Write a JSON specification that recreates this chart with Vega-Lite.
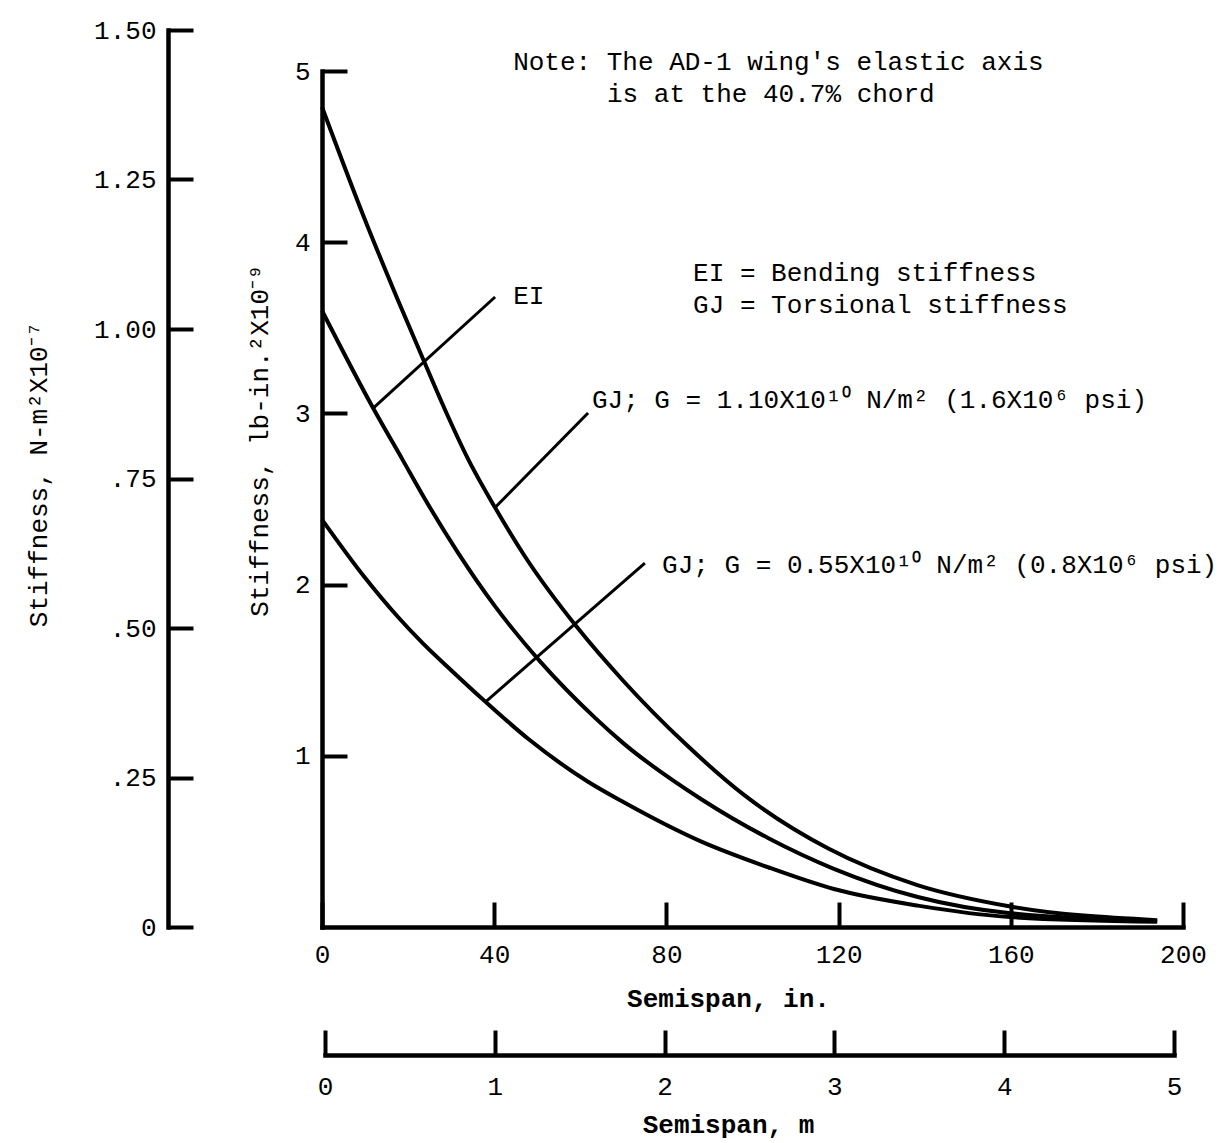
{
  "$schema": "https://vega.github.io/schema/vega-lite/v6.json",
  "width": 861,
  "height": 897,
  "autosize": {"type": "none"},
  "padding": {"left": 322, "top": 30, "right": 47, "bottom": 216},
  "background": "white",
  "config": {
    "view": {"stroke": null},
    "font": "Liberation Mono",
    "axis": {
      "grid": false,
      "domainColor": "black",
      "domainWidth": 4.5,
      "domainCap": "square",
      "tickColor": "black",
      "tickWidth": 4,
      "tickSize": -25,
      "labelFont": "Liberation Mono",
      "labelFontSize": 26,
      "labelColor": "black",
      "labelFlush": false,
      "labelOverlap": false,
      "titleFont": "Liberation Mono",
      "titleFontSize": 26,
      "titleColor": "black",
      "titleFontWeight": "normal"
    },
    "text": {"font": "Liberation Mono", "fontSize": 26, "color": "black"}
  },
  "datasets": {
    "curves": [
      {"series": "GJ; G = 1.10X10^10 N/m^2", "semispan_in": 0, "stiffness": 4.79},
      {"series": "GJ; G = 1.10X10^10 N/m^2", "semispan_in": 10, "stiffness": 4.13},
      {"series": "GJ; G = 1.10X10^10 N/m^2", "semispan_in": 17.5, "stiffness": 3.67},
      {"series": "GJ; G = 1.10X10^10 N/m^2", "semispan_in": 23.6, "stiffness": 3.31},
      {"series": "GJ; G = 1.10X10^10 N/m^2", "semispan_in": 28.6, "stiffness": 3.02},
      {"series": "GJ; G = 1.10X10^10 N/m^2", "semispan_in": 34, "stiffness": 2.73},
      {"series": "GJ; G = 1.10X10^10 N/m^2", "semispan_in": 40.2, "stiffness": 2.45},
      {"series": "GJ; G = 1.10X10^10 N/m^2", "semispan_in": 47, "stiffness": 2.17},
      {"series": "GJ; G = 1.10X10^10 N/m^2", "semispan_in": 59.6, "stiffness": 1.74},
      {"series": "GJ; G = 1.10X10^10 N/m^2", "semispan_in": 69.9, "stiffness": 1.44},
      {"series": "GJ; G = 1.10X10^10 N/m^2", "semispan_in": 84.4, "stiffness": 1.07},
      {"series": "GJ; G = 1.10X10^10 N/m^2", "semispan_in": 98.1, "stiffness": 0.77},
      {"series": "GJ; G = 1.10X10^10 N/m^2", "semispan_in": 117.5, "stiffness": 0.46},
      {"series": "GJ; G = 1.10X10^10 N/m^2", "semispan_in": 138.3, "stiffness": 0.245},
      {"series": "GJ; G = 1.10X10^10 N/m^2", "semispan_in": 159.9, "stiffness": 0.12},
      {"series": "GJ; G = 1.10X10^10 N/m^2", "semispan_in": 194, "stiffness": 0.04},
      {"series": "EI", "semispan_in": 0, "stiffness": 3.6},
      {"series": "EI", "semispan_in": 11.9, "stiffness": 3.03},
      {"series": "EI", "semispan_in": 18.7, "stiffness": 2.73},
      {"series": "EI", "semispan_in": 23.9, "stiffness": 2.5},
      {"series": "EI", "semispan_in": 31.5, "stiffness": 2.19},
      {"series": "EI", "semispan_in": 40, "stiffness": 1.88},
      {"series": "EI", "semispan_in": 50.7, "stiffness": 1.55},
      {"series": "EI", "semispan_in": 63.5, "stiffness": 1.22},
      {"series": "EI", "semispan_in": 69.7, "stiffness": 1.08},
      {"series": "EI", "semispan_in": 88.2, "stiffness": 0.745},
      {"series": "EI", "semispan_in": 103.6, "stiffness": 0.52},
      {"series": "EI", "semispan_in": 118.9, "stiffness": 0.34},
      {"series": "EI", "semispan_in": 138.4, "stiffness": 0.175},
      {"series": "EI", "semispan_in": 159.9, "stiffness": 0.08},
      {"series": "EI", "semispan_in": 194, "stiffness": 0.035},
      {"series": "GJ; G = 0.55X10^10 N/m^2", "semispan_in": 0, "stiffness": 2.38},
      {"series": "GJ; G = 0.55X10^10 N/m^2", "semispan_in": 10, "stiffness": 2.04},
      {"series": "GJ; G = 0.55X10^10 N/m^2", "semispan_in": 17.5, "stiffness": 1.815},
      {"series": "GJ; G = 0.55X10^10 N/m^2", "semispan_in": 23.5, "stiffness": 1.655},
      {"series": "GJ; G = 0.55X10^10 N/m^2", "semispan_in": 30, "stiffness": 1.5},
      {"series": "GJ; G = 0.55X10^10 N/m^2", "semispan_in": 38, "stiffness": 1.315},
      {"series": "GJ; G = 0.55X10^10 N/m^2", "semispan_in": 48.1, "stiffness": 1.095},
      {"series": "GJ; G = 0.55X10^10 N/m^2", "semispan_in": 61.7, "stiffness": 0.85},
      {"series": "GJ; G = 0.55X10^10 N/m^2", "semispan_in": 70, "stiffness": 0.73},
      {"series": "GJ; G = 0.55X10^10 N/m^2", "semispan_in": 88, "stiffness": 0.5},
      {"series": "GJ; G = 0.55X10^10 N/m^2", "semispan_in": 103.6, "stiffness": 0.349},
      {"series": "GJ; G = 0.55X10^10 N/m^2", "semispan_in": 118.9, "stiffness": 0.222},
      {"series": "GJ; G = 0.55X10^10 N/m^2", "semispan_in": 138.4, "stiffness": 0.125},
      {"series": "GJ; G = 0.55X10^10 N/m^2", "semispan_in": 159.9, "stiffness": 0.058},
      {"series": "GJ; G = 0.55X10^10 N/m^2", "semispan_in": 194, "stiffness": 0.03}
    ],
    "leaders": [
      {"label": "EI", "x1": 11.9, "y1": 3.031, "x2": 40.2, "y2": 3.68},
      {"label": "GJ 1.10", "x1": 40.2, "y1": 2.45, "x2": 61.8, "y2": 3.002},
      {"label": "GJ 0.55", "x1": 38.0, "y1": 1.315, "x2": 75.0, "y2": 2.126}
    ],
    "notes": [
      {"text": "Note: The AD-1 wing's elastic axis", "x": 44.4, "y": 5.053},
      {"text": "is at the 40.7% chord", "x": 66.2, "y": 4.866},
      {"text": "EI = Bending stiffness", "x": 86.2, "y": 3.82},
      {"text": "GJ = Torsional stiffness", "x": 86.2, "y": 3.633},
      {"text": "EI", "x": 44.4, "y": 3.686},
      {"text": "GJ; G = 1.10X10¹⁰ N/m² (1.6X10⁶ psi)", "x": 62.7, "y": 3.078},
      {"text": "GJ; G = 0.55X10¹⁰ N/m² (0.8X10⁶ psi)", "x": 79.0, "y": 2.114}
    ]
  },
  "layer": [
    {
      "layer": [
        {
          "data": {"name": "curves"},
          "mark": {"type": "line", "interpolate": "monotone", "strokeWidth": 4, "color": "black"},
          "encoding": {
            "x": {
              "field": "semispan_in", "type": "quantitative",
              "scale": {"domain": [0, 200], "nice": false, "zero": true},
              "axis": {
                "values": [0, 40, 80, 120, 160, 200],
                "format": "d",
                "labelPadding": 39,
                "title": "Semispan, in.",
                "titleFontWeight": "bold",
                "titlePadding": 18,
                "titleX": 406
              }
            },
            "y": {
              "field": "stiffness", "type": "quantitative",
              "scale": {"domain": [0, 5], "range": [897, 41], "nice": false, "zero": true},
              "axis": {
                "values": [1, 2, 3, 4, 5],
                "format": "d",
                "labelPadding": 37,
                "title": "Stiffness, lb-in.²X10⁻⁹",
                "titlePadding": 22,
                "titleY": 410
              }
            },
            "detail": {"field": "series", "type": "nominal"}
          }
        },
        {
          "data": {"name": "leaders"},
          "mark": {"type": "rule", "strokeWidth": 3, "color": "black"},
          "encoding": {
            "x": {"field": "x1", "type": "quantitative", "scale": {"domain": [0, 200], "nice": false}},
            "y": {"field": "y1", "type": "quantitative", "scale": {"domain": [0, 5], "range": [897, 41], "nice": false}},
            "x2": {"field": "x2"},
            "y2": {"field": "y2"}
          }
        },
        {
          "data": {"name": "notes"},
          "mark": {"type": "text", "align": "left", "baseline": "middle"},
          "encoding": {
            "x": {"field": "x", "type": "quantitative", "scale": {"domain": [0, 200], "nice": false}},
            "y": {"field": "y", "type": "quantitative", "scale": {"domain": [0, 5], "range": [897, 41], "nice": false}},
            "text": {"field": "text", "type": "nominal"}
          }
        }
      ]
    },
    {
      "data": {"values": [{"si": 0}, {"si": 1.5}]},
      "mark": {"type": "point", "opacity": 0},
      "encoding": {
        "y": {
          "field": "si", "type": "quantitative",
          "scale": {"domain": [0, 1.5], "nice": false, "zero": true},
          "axis": {
            "orient": "left",
            "offset": 154,
            "values": [0, 0.25, 0.5, 0.75, 1, 1.25, 1.5],
            "labelExpr": "datum.value == 0 ? '0' : (datum.value < 1 ? '.' + substring(format(datum.value, '.2f'), 2) : format(datum.value, '.2f'))",
            "labelPadding": 37,
            "title": "Stiffness, N-m²X10⁻⁷",
            "titlePadding": 42,
            "titleY": 444
          }
        }
      }
    },
    {
      "data": {"values": [{"m": 0}, {"m": 5}]},
      "mark": {"type": "point", "opacity": 0},
      "encoding": {
        "x": {
          "field": "m", "type": "quantitative",
          "scale": {"domain": [0, 5], "range": [3, 852], "nice": false, "zero": true},
          "axis": {
            "orient": "bottom",
            "offset": 128,
            "values": [0, 1, 2, 3, 4, 5],
            "format": "d",
            "labelPadding": 43,
            "title": "Semispan, m",
            "titleFontWeight": "bold",
            "titlePadding": 12,
            "titleX": 406
          }
        }
      }
    }
  ],
  "resolve": {"scale": {"x": "independent", "y": "independent"}}
}
